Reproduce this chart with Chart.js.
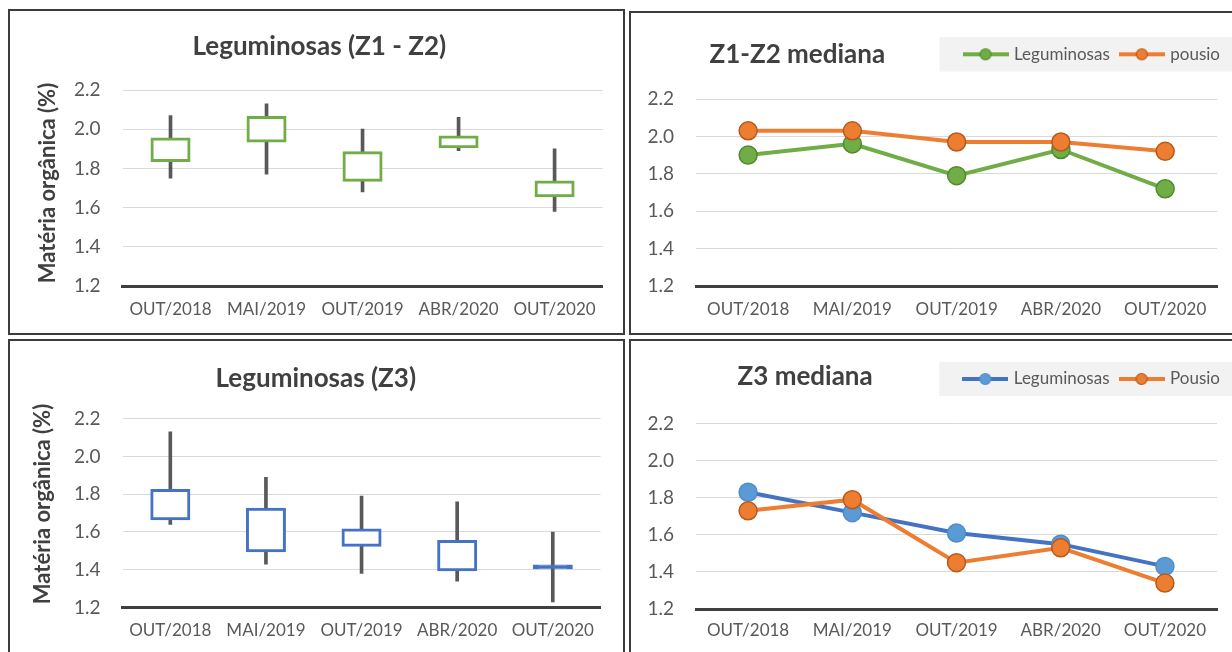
<!DOCTYPE html>
<html lang="pt">
<head>
<meta charset="utf-8">
<title>Matéria orgânica — Leguminosas e pousio</title>
<script src="https://cdn.jsdelivr.net/npm/chart.js@4.4.1/dist/chart.umd.min.js"></script>
<style>
  html, body { margin: 0; padding: 0; background: #fff; overflow: hidden; }
  body { width: 1232px; height: 652px; position: relative; }
  .panel { position: absolute; border: 2px solid #3c3c3c; background: #fff; overflow: hidden; }
  .panel canvas { display: block; }
  #p1 { left: 8px;   top: 9px;   width: 613px; height: 322px; }
  #p2 { left: 629px; top: 11px;  width: 601px; height: 320px; }
  #p3 { left: 8px;   top: 339px; width: 613px; height: 311px; }
  #p4 { left: 629px; top: 339px; width: 601px; height: 311px; }
</style>
</head>
<body>
<div class="panel" id="p1"><canvas id="boxZ12" width="613" height="322"></canvas></div>
<div class="panel" id="p2"><canvas id="medZ12" width="601" height="320"></canvas></div>
<div class="panel" id="p3"><canvas id="boxZ3" width="613" height="311"></canvas></div>
<div class="panel" id="p4"><canvas id="medZ3" width="601" height="311"></canvas></div>

<script>
// Sampling campaigns
const periods = ['OUT/2018', 'MAI/2019', 'OUT/2019', 'ABR/2020', 'OUT/2020'];

// Organic matter (%) under legumes, zones Z1-Z2: whiskers and interquartile box
const z12Min = [1.75, 1.77, 1.68, 1.89, 1.58];
const z12Q1  = [1.84, 1.94, 1.74, 1.91, 1.66];
const z12Q3  = [1.95, 2.06, 1.88, 1.96, 1.73];
const z12Max = [2.07, 2.13, 2.00, 2.06, 1.90];

// Organic matter (%) under legumes, zone Z3
const z3Min = [1.64, 1.43, 1.38, 1.34, 1.23];
const z3Q1  = [1.67, 1.50, 1.53, 1.40, 1.41];
const z3Q3  = [1.82, 1.72, 1.61, 1.55, 1.42];
const z3Max = [2.13, 1.89, 1.79, 1.76, 1.60];

// Medians: legumes vs fallow
const z12MedLeguminosas = [1.90, 1.96, 1.79, 1.93, 1.72];
const z12MedPousio      = [2.03, 2.03, 1.97, 1.97, 1.92];
const z3MedLeguminosas  = [1.83, 1.72, 1.61, 1.55, 1.43];
const z3MedPousio       = [1.73, 1.79, 1.45, 1.53, 1.34];

// Value axis range and tick step
const yMin = 1.2, yMax = 2.2, yStep = 0.2;
const yAxisTitle = 'Matéria orgânica (%)';

const GREEN = '#70ad47', GREEN_EDGE = '#4f8a2f';
const ORANGE = '#ed7d31', ORANGE_EDGE = '#b45a1e';
const BLUE = '#4472c4', BLUE_POINT = '#5b9bd5', BLUE_EDGE = '#4f8dc9';
const WHISKER = '#595959';
const TEXT = '#404040', TICK = '#595959';

Chart.defaults.font.family = "Lato, 'Open Sans', sans-serif";
Chart.defaults.color = TICK;

// Bold captions placed at fixed spots (headings beside the legend, rotated axis titles)
const captions = {
  id: 'captions',
  afterDraw(chart, args, opts) {
    const ctx = chart.ctx;
    (opts.items || []).forEach(it => {
      ctx.save();
      ctx.font = `bold ${it.size}px ${Chart.defaults.font.family}`;
      ctx.fillStyle = it.color || TEXT;
      ctx.textAlign = it.align || 'left';
      ctx.textBaseline = 'middle';
      ctx.translate(it.x, it.y);
      if (it.rotate) ctx.rotate(it.rotate);
      ctx.fillText(it.text, 0, 0);
      ctx.restore();
    });
  }
};

// Light grey band behind the legend row
const legendPanel = {
  id: 'legendPanel',
  beforeDraw(chart, args, opts) {
    const lg = chart.legend;
    if (!opts.color || !lg || !lg.lineWidths) return;
    const pad = lg.options.labels.padding;
    const fs = lg.options.labels.font.size;
    const cy = lg.top + pad + fs / 2;
    const x0 = lg.right - lg.lineWidths[0] - opts.lead;
    const ctx = chart.ctx;
    ctx.save();
    ctx.fillStyle = opts.color;
    ctx.fillRect(x0, cy - opts.half, chart.width - x0, opts.half * 2);
    ctx.restore();
  }
};

// Legend swatch: line with a marker in the middle
function makeSwatch(line, fill, edge) {
  const c = document.createElement('canvas');
  c.width = 46; c.height = 16;
  const g = c.getContext('2d');
  g.strokeStyle = line; g.lineWidth = 4;
  g.beginPath(); g.moveTo(0, 8); g.lineTo(46, 8); g.stroke();
  g.beginPath(); g.arc(23, 8, 5.5, 0, Math.PI * 2);
  g.fillStyle = fill; g.fill();
  g.lineWidth = 1.2; g.strokeStyle = edge; g.stroke();
  return c;
}

function yScale(geo) {
  return {
    min: yMin, max: yMax,
    grid: { color: '#d9d9d9', lineWidth: 1, drawTicks: false },
    border: { display: false },
    ticks: { stepSize: yStep, padding: 22, color: TICK, font: { size: 19 }, callback: v => Number(v).toFixed(1) },
    afterFit: s => { s.width = geo.yWidth; }
  };
}

function xScale(geo) {
  return {
    type: 'category', offset: true,
    grid: { display: false, drawTicks: false },
    border: { display: true, color: '#3f3f3f', width: 3 },
    ticks: { padding: geo.xPad, color: TICK, font: { size: 17 }, maxRotation: 0, autoSkip: false },
    afterFit: s => {
      s.height = geo.xHeight;
      if (geo.rightGap) s.paddingRight = geo.rightGap;
    }
  };
}

function boxChart(id, title, lows, q1, q3, highs, color, geo) {
  return new Chart(document.getElementById(id), {
    type: 'bar',
    data: {
      labels: periods,
      datasets: [
        {
          label: 'Amplitude',
          data: periods.map((p, i) => [lows[i], highs[i]]),
          backgroundColor: WHISKER, barThickness: 3, grouped: false, order: 2
        },
        {
          label: 'Intervalo interquartil',
          data: periods.map((p, i) => [q1[i], q3[i]]),
          // a box squeezed to a line is shown solid in the outline colour
          backgroundColor: c => (q3[c.dataIndex] - q1[c.dataIndex] < 0.02 ? color : '#ffffff'),
          borderColor: color, borderWidth: 3, borderSkipped: false,
          barThickness: 37, inflateAmount: 1.5, grouped: false, order: 1
        }
      ]
    },
    options: {
      responsive: false, devicePixelRatio: 1, animation: false,
      layout: { padding: geo.padding },
      plugins: {
        legend: { display: false },
        tooltip: { enabled: false },
        title: {
          display: true, text: title, color: TEXT,
          font: { size: 26, weight: 'bold', lineHeight: 1.2 },
          padding: geo.titlePad
        },
        captions: {
          items: [{ text: yAxisTitle, x: geo.axisTitleX, y: geo.axisTitleY, size: 22, align: 'center', rotate: -Math.PI / 2 }]
        }
      },
      scales: { x: xScale(geo), y: yScale(geo) }
    },
    plugins: [captions]
  });
}

function medianChart(id, heading, series, geo) {
  const swatches = series.map(s => makeSwatch(s.line, s.fill, s.edge));
  return new Chart(document.getElementById(id), {
    type: 'line',
    data: {
      labels: periods,
      datasets: series.map((s, i) => ({
        label: s.label, data: s.values,
        borderColor: s.line, backgroundColor: s.fill, borderWidth: 4,
        pointRadius: 9, pointHoverRadius: 9,
        pointBackgroundColor: s.fill, pointBorderColor: s.edge, pointBorderWidth: 1.5,
        tension: 0, order: series.length - i
      }))
    },
    options: {
      responsive: false, devicePixelRatio: 1, animation: false,
      layout: { padding: geo.padding },
      plugins: {
        tooltip: { enabled: false },
        legend: {
          display: true, position: 'top', align: 'end',
          labels: {
            usePointStyle: true, pointStyleWidth: 40, padding: 12,
            color: TICK, font: { size: 17 },
            sort: (a, b) => a.datasetIndex - b.datasetIndex,
            generateLabels: chart => Chart.defaults.plugins.legend.labels.generateLabels(chart)
              .map(item => Object.assign(item, { pointStyle: swatches[item.datasetIndex] }))
          }
        },
        subtitle: {
          display: true, text: '', weight: 500,
          font: { size: 10, lineHeight: 1 }, padding: { top: 0, bottom: geo.gap }
        },
        captions: { items: [{ text: heading, x: geo.headX, y: geo.headY, size: 26 }] },
        legendPanel: { color: '#f2f2f2', lead: 26, half: 17.2 }
      },
      scales: { x: xScale(geo), y: yScale(geo) }
    },
    plugins: [captions, legendPanel]
  });
}

boxChart('boxZ12', 'Leguminosas (Z1 - Z2)', z12Min, z12Q1, z12Q3, z12Max, GREEN, {
  padding: { left: 26, right: 20.4, top: 0, bottom: 0 },
  titlePad: { top: 20.1, bottom: 27.7 },
  yWidth: 86.5, xHeight: 47, xPad: 13.3,
  axisTitleX: 38, axisTitleY: 172
});

boxChart('boxZ3', 'Leguminosas (Z3)', z3Min, z3Q1, z3Q3, z3Max, BLUE, {
  padding: { left: 21, right: 22.4, top: 0, bottom: 0 },
  titlePad: { top: 21.7, bottom: 24.8 },
  yWidth: 91.5, xHeight: 44.5, xPad: 13.3,
  axisTitleX: 33, axisTitleY: 163
});

medianChart('medZ12', 'Z1-Z2 mediana', [
  { label: 'Leguminosas', values: z12MedLeguminosas, line: GREEN, fill: GREEN, edge: GREEN_EDGE },
  { label: 'pousio', values: z12MedPousio, line: ORANGE, fill: ORANGE, edge: ORANGE_EDGE }
], {
  padding: { left: 0, right: 0, top: 20.8, bottom: 0 },
  gap: 16.2, yWidth: 65, xHeight: 47, xPad: 13.8, rightGap: 14.7,
  headX: 78.5, headY: 41.3
});

medianChart('medZ3', 'Z3 mediana', [
  { label: 'Leguminosas', values: z3MedLeguminosas, line: BLUE, fill: BLUE_POINT, edge: BLUE_EDGE },
  { label: 'Pousio', values: z3MedPousio, line: ORANGE, fill: ORANGE, edge: ORANGE_EDGE }
], {
  padding: { left: 0, right: 0, top: 17.5, bottom: 0 },
  gap: 16.2, yWidth: 65, xHeight: 43, xPad: 11.8, rightGap: 15,
  headX: 106.5, headY: 35.7
});
</script>
</body>
</html>
